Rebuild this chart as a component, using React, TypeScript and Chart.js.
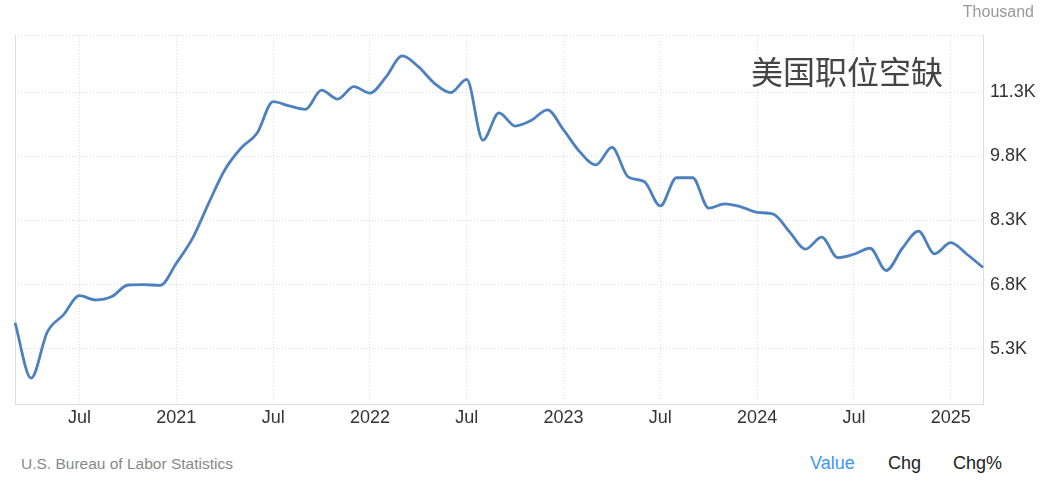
import React, { useEffect, useRef } from "react";
import { Chart, registerables } from "chart.js";

Chart.register(...registerables);

const months: string[] = [
  "2020-03","2020-04","2020-05","2020-06","2020-07","2020-08","2020-09","2020-10","2020-11","2020-12",
  "2021-01","2021-02","2021-03","2021-04","2021-05","2021-06","2021-07","2021-08","2021-09","2021-10","2021-11","2021-12",
  "2022-01","2022-02","2022-03","2022-04","2022-05","2022-06","2022-07","2022-08","2022-09","2022-10","2022-11","2022-12",
  "2023-01","2023-02","2023-03","2023-04","2023-05","2023-06","2023-07","2023-08","2023-09","2023-10","2023-11","2023-12",
  "2024-01","2024-02","2024-03","2024-04","2024-05","2024-06","2024-07","2024-08","2024-09","2024-10","2024-11","2024-12",
  "2025-01","2025-02","2025-03",
];

const jobOpenings: number[] = [
  5910, 4610, 5690, 6090, 6540, 6440, 6520, 6790, 6800, 6780,
  7300, 7880, 8700, 9480, 9990, 10340, 11080, 10980, 10900, 11350, 11140, 11430,
  11280, 11660, 12150, 11900, 11510, 11290, 11600, 10180, 10820, 10510, 10640, 10890,
  10420, 9910, 9600, 10010, 9320, 9210, 8640, 9300, 9300, 8590, 8690, 8620,
  8490, 8450, 8040, 7630, 7910, 7430, 7510, 7650, 7130, 7650, 8050, 7520,
  7780, 7510, 7200,
];

const yTickValues: number[] = [5300, 6800, 8300, 9800, 11300];
const yMin = 4006;
const yMax = 12640;

const xTickLabel = (m: string): string => {
  const [y, mo] = m.split("-");
  if (mo === "01") return y;
  if (mo === "07") return "Jul";
  return "";
};

const yTickLabel = (v: number): string => (v / 1000).toFixed(1) + "K";

export default function App() {
  const canvasRef = useRef<HTMLCanvasElement | null>(null);

  useEffect(() => {
    const canvas = canvasRef.current;
    if (!canvas) return;
    const gridCol = "#dddddd";
    const chart = new Chart(canvas, {
      type: "line",
      data: {
        labels: months,
        datasets: [
          {
            data: jobOpenings,
            borderColor: "#4d80bf",
            borderWidth: 2.8,
            pointRadius: 0,
            cubicInterpolationMode: "monotone",
            fill: false,
          },
        ],
      },
      options: {
        animation: false,
        responsive: false,
        maintainAspectRatio: false,
        layout: { padding: { left: 15, top: 35, right: 0, bottom: 0 } },
        plugins: { legend: { display: false }, tooltip: { enabled: false }, title: { display: false } },
        scales: {
          x: {
            type: "category",
            offset: false,
            grid: {
              display: true,
              drawTicks: false,
              color: (ctx: any) => {
                const i = ctx.index;
                if (i === undefined || i === 0) return "transparent";
                return xTickLabel(months[i]) ? gridCol : "transparent";
              },
              lineWidth: 1,
            },
            border: { display: true, color: "#dcdcdc", width: 1, dash: [1, 2] },
            ticks: {
              autoSkip: false,
              maxRotation: 0,
              minRotation: 0,
              padding: 3,
              color: "#333333",
              font: { family: "'Liberation Sans', Arial, sans-serif", size: 18 },
              callback: (_v: any, i: number) => xTickLabel(months[i]),
            },
            afterFit: (scale: any) => {
              scale.height = 36;
            },
          },
          y: {
            type: "linear",
            position: "right",
            min: yMin,
            max: yMax,
            grid: { display: true, drawTicks: false, color: gridCol, lineWidth: 1 },
            border: { display: true, color: "#dcdcdc", width: 1, dash: [1, 2] },
            afterBuildTicks: (scale: any) => {
              scale.ticks = [...yTickValues, yMax].map((v) => ({ value: v }));
            },
            ticks: {
              padding: 7,
              color: "#333333",
              font: { family: "'Liberation Sans', Arial, sans-serif", size: 18 },
              callback: (v: any) => (v === yMax ? "" : yTickLabel(Number(v))),
            },
            afterFit: (scale: any) => {
              scale.width = 64;
            },
          },
          yL: {
            type: "linear",
            position: "left",
            min: yMin,
            max: yMax,
            grid: { display: false, drawTicks: false },
            border: { display: true, color: "#dcdcdc", width: 1 },
            ticks: { display: false },
            afterFit: (scale: any) => {
              scale.width = 0;
            },
          },
        },
      },
    });
    return () => chart.destroy();
  }, []);

  const base: React.CSSProperties = {
    position: "absolute",
    whiteSpace: "nowrap",
    fontFamily: "'Liberation Sans', Arial, sans-serif",
    lineHeight: 1,
  };

  return (
    <div style={{ position: "absolute", left: 0, top: 0, width: 1047, height: 489, background: "#fff", overflow: "hidden" }}>
      <canvas ref={canvasRef} width={1047} height={440} style={{ position: "absolute", left: 0, top: 0, width: 1047, height: 440 }} />
      <div style={{ ...base, right: 13, top: 4, fontSize: 16, color: "#999999" }}>Thousand</div>
      <div
        style={{
          ...base,
          left: 751,
          top: 54,
          fontSize: 32,
          color: "#444444",
          fontFamily: "'Noto Sans CJK SC', sans-serif",
        }}
      >
        美国职位空缺
      </div>
      <div style={{ ...base, left: 21, top: 456, fontSize: 15.5, color: "#888888" }}>U.S. Bureau of Labor Statistics</div>
      <div style={{ ...base, left: 810, top: 454, fontSize: 18, color: "#3d97f0" }}>Value</div>
      <div style={{ ...base, left: 888, top: 454, fontSize: 18, color: "#222222" }}>Chg</div>
      <div style={{ ...base, left: 953, top: 454, fontSize: 18, color: "#222222" }}>Chg%</div>
    </div>
  );
}
